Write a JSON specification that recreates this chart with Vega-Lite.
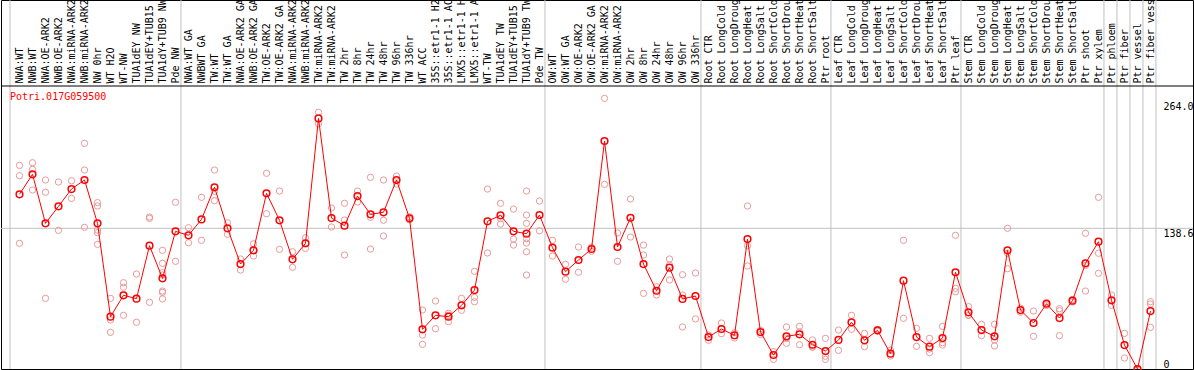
{
  "$schema": "https://vega.github.io/schema/vega-lite/v6.json",
  "width": 1192,
  "height": 369,
  "autosize": {"type": "none"},
  "padding": {"left": 1, "top": 0, "right": 1, "bottom": 1},
  "background": "white",
  "config": {"view": {"stroke": "black", "strokeWidth": 1}, "font": "DejaVu Sans Mono"},
  "datasets": {
    "means": [
      {"s": "NWA:WT", "v": 172.1}, {"s": "NWB:WT", "v": 191.8}, {"s": "NWA:OE-ARK2", "v": 143.5}, {"s": "NWB:OE-ARK2", "v": 160.3},
      {"s": "NWA:miRNA-ARK2", "v": 177.3}, {"s": "NWB:miRNA-ARK2", "v": 186.2}, {"s": "NW 0hr", "v": 143.5}, {"s": "WT H2O", "v": 51.5},
      {"s": "WT-NW", "v": 72.6}, {"s": "TUA1dEY NW", "v": 69.3}, {"s": "TUA1dEY+TUB15", "v": 121.5}, {"s": "TUA1dY+TUB9 NW", "v": 89.3},
      {"s": "Pde NW", "v": 135.6}, {"s": "NWA:WT GA", "v": 131.7}, {"s": "NWBWT GA", "v": 147.4}, {"s": "TW:WT", "v": 179},
      {"s": "TW:WT GA", "v": 138.6}, {"s": "NWA:OE-ARK2 GA", "v": 103.4}, {"s": "NWB:OE-ARK2 GA", "v": 116.9}, {"s": "TW:OE-ARK2", "v": 173.1},
      {"s": "TW:OE-ARK2 GA", "v": 146.5}, {"s": "NWA:miRNA-ARK2 ", "v": 108.1}, {"s": "NWB:miRNA-ARK2 ", "v": 123.8}, {"s": "TW:miRNA-ARK2", "v": 246.9},
      {"s": "TW:miRNA-ARK2 ", "v": 148.7}, {"s": "TW 2hr", "v": 141.2}, {"s": "TW 8hr", "v": 170.4}, {"s": "TW 24hr", "v": 152.4},
      {"s": "TW 48hr", "v": 154.4}, {"s": "TW 96hr", "v": 186.2}, {"s": "TW 336hr", "v": 148.4}, {"s": "WT ACC", "v": 39.1},
      {"s": "35S::etr1-1 H2", "v": 52.9}, {"s": "35S::etr1-1 AC", "v": 51.5}, {"s": "LMX5::etr1-1 H", "v": 62.7}, {"s": "LMX5::etr1-1 A", "v": 77.8},
      {"s": "WT-TW", "v": 145.5}, {"s": "TUA1dEY TW", "v": 151.4}, {"s": "TUA1dEY+TUB15 ", "v": 135.6}, {"s": "TUA1dY+TUB9 TW", "v": 133.3},
      {"s": "Pde TW", "v": 151.7}, {"s": "OW:WT", "v": 119.5}, {"s": "OW:WT GA", "v": 95.9}, {"s": "OW:OE-ARK2", "v": 107.4},
      {"s": "OW:OE-ARK2 GA", "v": 118.2}, {"s": "OW:miRNA-ARK2", "v": 224.6}, {"s": "OW:miRNA-ARK2 ", "v": 120.2}, {"s": "OW 2hr", "v": 149},
      {"s": "OW 8hr", "v": 103.4}, {"s": "OW 24hr", "v": 77.1}, {"s": "OW 48hr", "v": 99.8}, {"s": "OW 96hr", "v": 69},
      {"s": "OW 336hr", "v": 71.9}, {"s": "Root CTR", "v": 31.5}, {"s": "Root LongCold", "v": 39.4}, {"s": "Root LongDroug", "v": 33.2},
      {"s": "Root LongHeat", "v": 128}, {"s": "Root LongSalt", "v": 36.4}, {"s": "Root ShortCold", "v": 13.8}, {"s": "Root ShortDrou", "v": 32.2},
      {"s": "Root ShortHeat", "v": 34.2}, {"s": "Root ShortSalt", "v": 23.9}, {"s": "Ptr root", "v": 17.7}, {"s": "Leaf CTR", "v": 28.6},
      {"s": "Leaf LongCold", "v": 46}, {"s": "Leaf LongDroug", "v": 28.3}, {"s": "Leaf LongHeat", "v": 38.1}, {"s": "Leaf LongSalt", "v": 15.1},
      {"s": "Leaf ShortCold", "v": 87}, {"s": "Leaf ShortDrou", "v": 31.5}, {"s": "Leaf ShortHeat", "v": 22}, {"s": "Leaf ShortSalt", "v": 30.5},
      {"s": "Ptr leaf", "v": 95.3}, {"s": "Stem CTR", "v": 55.8}, {"s": "Stem LongCold", "v": 38.4}, {"s": "Stem LongDroug", "v": 32.2},
      {"s": "Stem LongHeat", "v": 116.9}, {"s": "Stem LongSalt", "v": 58.1}, {"s": "Stem ShortCold", "v": 45.3}, {"s": "Stem ShortDrou", "v": 64.3},
      {"s": "Stem ShortHeat", "v": 50.2}, {"s": "Stem ShortSalt", "v": 67.3}, {"s": "Ptr shoot", "v": 104.1}, {"s": "Ptr xylem", "v": 125.4},
      {"s": "Ptr phloem", "v": 67.7}, {"s": "Ptr fiber", "v": 23.6}, {"s": "Ptr vessel", "v": 0}, {"s": "Ptr fiber vess", "v": 57.1}
    ],
    "reps": [
      {"s": "NWA:WT", "v": 200.6}, {"s": "NWA:WT", "v": 190.4}, {"s": "NWA:WT", "v": 123.8},
      {"s": "NWB:WT", "v": 203.2}, {"s": "NWB:WT", "v": 196.7}, {"s": "NWB:WT", "v": 176.3},
      {"s": "NWA:OE-ARK2", "v": 186.2}, {"s": "NWA:OE-ARK2", "v": 174.1}, {"s": "NWA:OE-ARK2", "v": 69.6},
      {"s": "NWB:OE-ARK2", "v": 184.2}, {"s": "NWB:OE-ARK2", "v": 136.6},
      {"s": "NWA:miRNA-ARK2", "v": 185.5}, {"s": "NWA:miRNA-ARK2", "v": 168.1},
      {"s": "NWB:miRNA-ARK2", "v": 222.3}, {"s": "NWB:miRNA-ARK2", "v": 196}, {"s": "NWB:miRNA-ARK2", "v": 139.6},
      {"s": "NW 0hr", "v": 163.9}, {"s": "NW 0hr", "v": 160.6}, {"s": "NW 0hr", "v": 136.9}, {"s": "NW 0hr", "v": 134.3}, {"s": "NW 0hr", "v": 122.8},
      {"s": "WT H2O", "v": 69.6}, {"s": "WT H2O", "v": 48.3}, {"s": "WT H2O", "v": 36.1},
      {"s": "WT-NW", "v": 85}, {"s": "WT-NW", "v": 80.5}, {"s": "WT-NW", "v": 52.9},
      {"s": "TUA1dEY NW", "v": 93.6}, {"s": "TUA1dEY NW", "v": 46},
      {"s": "TUA1dEY+TUB15", "v": 149.7}, {"s": "TUA1dEY+TUB15", "v": 148.4}, {"s": "TUA1dEY+TUB15", "v": 65.7},
      {"s": "TUA1dY+TUB9 NW", "v": 116.9}, {"s": "TUA1dY+TUB9 NW", "v": 104.1}, {"s": "TUA1dY+TUB9 NW", "v": 94.9}, {"s": "TUA1dY+TUB9 NW", "v": 92.6}, {"s": "TUA1dY+TUB9 NW", "v": 76.8}, {"s": "TUA1dY+TUB9 NW", "v": 75.5}, {"s": "TUA1dY+TUB9 NW", "v": 69},
      {"s": "Pde NW", "v": 164.2}, {"s": "Pde NW", "v": 106.1},
      {"s": "NWA:WT GA", "v": 139.2}, {"s": "NWA:WT GA", "v": 124.4},
      {"s": "NWBWT GA", "v": 169.1}, {"s": "NWBWT GA", "v": 126.8},
      {"s": "TW:WT", "v": 196}, {"s": "TW:WT", "v": 165.8}, {"s": "TW:WT", "v": 175},
      {"s": "TW:WT GA", "v": 144.1}, {"s": "TW:WT GA", "v": 132.7},
      {"s": "NWA:OE-ARK2 GA", "v": 108.4}, {"s": "NWA:OE-ARK2 GA", "v": 97.5},
      {"s": "NWB:OE-ARK2 GA", "v": 123.4}, {"s": "NWB:OE-ARK2 GA", "v": 111.3},
      {"s": "TW:OE-ARK2", "v": 192.8}, {"s": "TW:OE-ARK2", "v": 153},
      {"s": "TW:OE-ARK2 GA", "v": 175.3}, {"s": "TW:OE-ARK2 GA", "v": 117.9},
      {"s": "NWA:miRNA-ARK2 ", "v": 115.5}, {"s": "NWA:miRNA-ARK2 ", "v": 100.2},
      {"s": "NWB:miRNA-ARK2 ", "v": 129.3}, {"s": "NWB:miRNA-ARK2 ", "v": 118.9},
      {"s": "TW:miRNA-ARK2", "v": 252.9}, {"s": "TW:miRNA-ARK2", "v": 241.6},
      {"s": "TW:miRNA-ARK2 ", "v": 158.6}, {"s": "TW:miRNA-ARK2 ", "v": 139.9},
      {"s": "TW 2hr", "v": 163.2}, {"s": "TW 2hr", "v": 146.8}, {"s": "TW 2hr", "v": 112.3},
      {"s": "TW 8hr", "v": 175.3}, {"s": "TW 8hr", "v": 164.5},
      {"s": "TW 24hr", "v": 188.8}, {"s": "TW 24hr", "v": 149.4}, {"s": "TW 24hr", "v": 118.2},
      {"s": "TW 48hr", "v": 186.2}, {"s": "TW 48hr", "v": 146.5}, {"s": "TW 48hr", "v": 131},
      {"s": "TW 96hr", "v": 190.1}, {"s": "TW 96hr", "v": 182.2},
      {"s": "TW 336hr", "v": 150}, {"s": "TW 336hr", "v": 147},
      {"s": "WT ACC", "v": 58.1}, {"s": "WT ACC", "v": 33.5}, {"s": "WT ACC", "v": 24.3},
      {"s": "35S::etr1-1 H2", "v": 67}, {"s": "35S::etr1-1 H2", "v": 39.7},
      {"s": "35S::etr1-1 AC", "v": 54.9}, {"s": "35S::etr1-1 AC", "v": 46.6}, {"s": "35S::etr1-1 AC", "v": 53},
      {"s": "LMX5::etr1-1 H", "v": 69.6}, {"s": "LMX5::etr1-1 H", "v": 57.8},
      {"s": "LMX5::etr1-1 A", "v": 96.2}, {"s": "LMX5::etr1-1 A", "v": 70.6}, {"s": "LMX5::etr1-1 A", "v": 66.3},
      {"s": "WT-TW", "v": 177.3}, {"s": "WT-TW", "v": 114.3},
      {"s": "TUA1dEY TW", "v": 163.2}, {"s": "TUA1dEY TW", "v": 142.8}, {"s": "TUA1dEY TW", "v": 148.2},
      {"s": "TUA1dEY+TUB15 ", "v": 157.6}, {"s": "TUA1dEY+TUB15 ", "v": 128}, {"s": "TUA1dEY+TUB15 ", "v": 122.1},
      {"s": "TUA1dY+TUB9 TW", "v": 175.3}, {"s": "TUA1dY+TUB9 TW", "v": 151.7}, {"s": "TUA1dY+TUB9 TW", "v": 143.5}, {"s": "TUA1dY+TUB9 TW", "v": 128.4}, {"s": "TUA1dY+TUB9 TW", "v": 124.1}, {"s": "TUA1dY+TUB9 TW", "v": 115.5}, {"s": "TUA1dY+TUB9 TW", "v": 92.6},
      {"s": "Pde TW", "v": 165.5}, {"s": "Pde TW", "v": 136.2},
      {"s": "OW:WT", "v": 126.8}, {"s": "OW:WT", "v": 111.3},
      {"s": "OW:WT GA", "v": 103.1}, {"s": "OW:WT GA", "v": 88.4},
      {"s": "OW:OE-ARK2", "v": 120.2}, {"s": "OW:OE-ARK2", "v": 95.3},
      {"s": "OW:OE-ARK2 GA", "v": 120}, {"s": "OW:OE-ARK2 GA", "v": 116},
      {"s": "OW:miRNA-ARK2", "v": 266.6}, {"s": "OW:miRNA-ARK2", "v": 181.9},
      {"s": "OW:miRNA-ARK2 ", "v": 134}, {"s": "OW:miRNA-ARK2 ", "v": 106.1},
      {"s": "OW 2hr", "v": 167.5}, {"s": "OW 2hr", "v": 130},
      {"s": "OW 8hr", "v": 122.1}, {"s": "OW 8hr", "v": 112.3}, {"s": "OW 8hr", "v": 74.5},
      {"s": "OW 24hr", "v": 81.1}, {"s": "OW 24hr", "v": 72.9},
      {"s": "OW 48hr", "v": 108.4}, {"s": "OW 48hr", "v": 102.4}, {"s": "OW 48hr", "v": 87.7},
      {"s": "OW 96hr", "v": 92.9}, {"s": "OW 96hr", "v": 72.9}, {"s": "OW 96hr", "v": 41.4},
      {"s": "OW 336hr", "v": 94.6}, {"s": "OW 336hr", "v": 49.3},
      {"s": "Root CTR", "v": 33.5}, {"s": "Root CTR", "v": 28.3},
      {"s": "Root LongCold", "v": 45.3}, {"s": "Root LongCold", "v": 34.8},
      {"s": "Root LongDroug", "v": 35.8}, {"s": "Root LongDroug", "v": 30.5},
      {"s": "Root LongHeat", "v": 160.6}, {"s": "Root LongHeat", "v": 121.5}, {"s": "Root LongHeat", "v": 101.5},
      {"s": "Root LongSalt", "v": 38}, {"s": "Root LongSalt", "v": 34},
      {"s": "Root ShortCold", "v": 17.1}, {"s": "Root ShortCold", "v": 9.5},
      {"s": "Root ShortDrou", "v": 41.4}, {"s": "Root ShortDrou", "v": 25.3}, {"s": "Root ShortDrou", "v": 30},
      {"s": "Root ShortHeat", "v": 42}, {"s": "Root ShortHeat", "v": 23.9}, {"s": "Root ShortHeat", "v": 36.7},
      {"s": "Root ShortSalt", "v": 28.6}, {"s": "Root ShortSalt", "v": 21.4}, {"s": "Root ShortSalt", "v": 21.7},
      {"s": "Ptr root", "v": 30.2}, {"s": "Ptr root", "v": 12.5}, {"s": "Ptr root", "v": 9.5},
      {"s": "Leaf CTR", "v": 38.4}, {"s": "Leaf CTR", "v": 18.4},
      {"s": "Leaf LongCold", "v": 52.9}, {"s": "Leaf LongCold", "v": 39.1},
      {"s": "Leaf LongDroug", "v": 35.1}, {"s": "Leaf LongDroug", "v": 22},
      {"s": "Leaf LongHeat", "v": 39}, {"s": "Leaf LongHeat", "v": 37.2},
      {"s": "Leaf LongSalt", "v": 18.7}, {"s": "Leaf LongSalt", "v": 12.8},
      {"s": "Leaf ShortCold", "v": 126.8}, {"s": "Leaf ShortCold", "v": 49.9},
      {"s": "Leaf ShortDrou", "v": 40.1}, {"s": "Leaf ShortDrou", "v": 22.3},
      {"s": "Leaf ShortHeat", "v": 30.2}, {"s": "Leaf ShortHeat", "v": 16.1}, {"s": "Leaf ShortHeat", "v": 19.7},
      {"s": "Leaf ShortSalt", "v": 42}, {"s": "Leaf ShortSalt", "v": 23.6}, {"s": "Leaf ShortSalt", "v": 25.9},
      {"s": "Ptr leaf", "v": 131.7}, {"s": "Ptr leaf", "v": 79.5}, {"s": "Ptr leaf", "v": 76.1},
      {"s": "Stem CTR", "v": 61.4}, {"s": "Stem CTR", "v": 52.9}, {"s": "Stem CTR", "v": 53},
      {"s": "Stem LongCold", "v": 44}, {"s": "Stem LongCold", "v": 32.8},
      {"s": "Stem LongDroug", "v": 44}, {"s": "Stem LongDroug", "v": 28.6}, {"s": "Stem LongDroug", "v": 22.7},
      {"s": "Stem LongHeat", "v": 138.6}, {"s": "Stem LongHeat", "v": 114}, {"s": "Stem LongHeat", "v": 98.8},
      {"s": "Stem LongSalt", "v": 60}, {"s": "Stem LongSalt", "v": 56},
      {"s": "Stem ShortCold", "v": 57.1}, {"s": "Stem ShortCold", "v": 32.2},
      {"s": "Stem ShortDrou", "v": 65.5}, {"s": "Stem ShortDrou", "v": 62.5},
      {"s": "Stem ShortHeat", "v": 59.4}, {"s": "Stem ShortHeat", "v": 57.4}, {"s": "Stem ShortHeat", "v": 32.8},
      {"s": "Stem ShortSalt", "v": 68.5}, {"s": "Stem ShortSalt", "v": 66},
      {"s": "Ptr shoot", "v": 133.7}, {"s": "Ptr shoot", "v": 76.8}, {"s": "Ptr shoot", "v": 102},
      {"s": "Ptr xylem", "v": 169.1}, {"s": "Ptr xylem", "v": 114}, {"s": "Ptr xylem", "v": 94.3},
      {"s": "Ptr phloem", "v": 72.9}, {"s": "Ptr phloem", "v": 62.7},
      {"s": "Ptr fiber", "v": 35.1}, {"s": "Ptr fiber", "v": 10.8},
      {"s": "Ptr vessel", "v": 0}, {"s": "Ptr vessel", "v": 0},
      {"s": "Ptr fiber vess", "v": 66.3}, {"s": "Ptr fiber vess", "v": 64}, {"s": "Ptr fiber vess", "v": 41.1}
    ],
    "separators": [
      {"s": "Pde NW"}, {"s": "Pde TW"}, {"s": "OW 336hr"}, {"s": "Ptr root"}, {"s": "Ptr leaf"},
      {"s": "Ptr xylem"}, {"s": "Ptr phloem"}, {"s": "Ptr fiber"}, {"s": "Ptr vessel"}, {"s": "Ptr fiber vess"}
    ]
  },
  "layer": [
    {
      "data": {"name": "separators"},
      "mark": {"type": "rule", "color": "#c0c0c0", "strokeWidth": 1},
      "encoding": {"x": {"field": "s", "type": "nominal", "bandPosition": 0.92}}
    },
    {
      "data": {"values": [{"s": "NWA:WT"}]},
      "mark": {"type": "rule", "color": "#c0c0c0", "strokeWidth": 1},
      "encoding": {"x": {"field": "s", "type": "nominal", "bandPosition": -0.23}}
    },
    {
      "data": {"values": [{"v": 138.6}]},
      "mark": {"type": "rule", "color": "#c0c0c0", "strokeWidth": 1},
      "encoding": {"y": {"field": "v", "type": "quantitative"}}
    },
    {
      "data": {"values": [{"v": 278.8}]},
      "mark": {"type": "rule", "color": "black", "strokeWidth": 1},
      "encoding": {"y": {"field": "v", "type": "quantitative"}}
    },
    {
      "data": {"name": "reps"},
      "mark": {"type": "point", "shape": "circle", "filled": false, "color": "#e99a9a", "opacity": 1, "strokeWidth": 1, "size": 40},
      "encoding": {
        "x": {
          "field": "s", "type": "nominal",
          "scale": {
            "type": "band", "range": [12, 1156], "paddingInner": 0, "paddingOuter": 0,
            "domain": ["NWA:WT", "NWB:WT", "NWA:OE-ARK2", "NWB:OE-ARK2", "NWA:miRNA-ARK2", "NWB:miRNA-ARK2", "NW 0hr", "WT H2O", "WT-NW", "TUA1dEY NW", "TUA1dEY+TUB15", "TUA1dY+TUB9 NW", "Pde NW",
                       "NWA:WT GA", "NWBWT GA", "TW:WT", "TW:WT GA", "NWA:OE-ARK2 GA", "NWB:OE-ARK2 GA", "TW:OE-ARK2", "TW:OE-ARK2 GA", "NWA:miRNA-ARK2 ", "NWB:miRNA-ARK2 ", "TW:miRNA-ARK2", "TW:miRNA-ARK2 ",
                       "TW 2hr", "TW 8hr", "TW 24hr", "TW 48hr", "TW 96hr", "TW 336hr", "WT ACC", "35S::etr1-1 H2", "35S::etr1-1 AC", "LMX5::etr1-1 H", "LMX5::etr1-1 A", "WT-TW", "TUA1dEY TW", "TUA1dEY+TUB15 ", "TUA1dY+TUB9 TW", "Pde TW",
                       "OW:WT", "OW:WT GA", "OW:OE-ARK2", "OW:OE-ARK2 GA", "OW:miRNA-ARK2", "OW:miRNA-ARK2 ", "OW 2hr", "OW 8hr", "OW 24hr", "OW 48hr", "OW 96hr", "OW 336hr",
                       "Root CTR", "Root LongCold", "Root LongDroug", "Root LongHeat", "Root LongSalt", "Root ShortCold", "Root ShortDrou", "Root ShortHeat", "Root ShortSalt", "Ptr root",
                       "Leaf CTR", "Leaf LongCold", "Leaf LongDroug", "Leaf LongHeat", "Leaf LongSalt", "Leaf ShortCold", "Leaf ShortDrou", "Leaf ShortHeat", "Leaf ShortSalt", "Ptr leaf",
                       "Stem CTR", "Stem LongCold", "Stem LongDroug", "Stem LongHeat", "Stem LongSalt", "Stem ShortCold", "Stem ShortDrou", "Stem ShortHeat", "Stem ShortSalt", "Ptr shoot",
                       "Ptr xylem", "Ptr phloem", "Ptr fiber", "Ptr vessel", "Ptr fiber vess"]
          },
          "axis": {
            "orient": "top", "offset": -86, "title": null, "ticks": false, "domain": false, "grid": false,
            "labelAngle": 270, "labelAlign": "left", "labelBaseline": "middle", "labelPadding": 3,
            "labelFont": "DejaVu Sans Mono", "labelFontSize": 10,
            "labelColor": "black", "labelOverlap": false, "labelBound": false, "labelLimit": 0
          }
        },
        "y": {
          "field": "v", "type": "quantitative",
          "scale": {"domain": [0, 278.8], "range": [369, 86], "zero": false, "nice": false},
          "axis": {
            "orient": "right", "offset": -36, "title": null, "ticks": false, "domain": false, "grid": false,
            "values": [0, 138.6, 264],
            "labelExpr": "datum.value == 0 ? '0' : format(datum.value, '.1f')",
            "labelAngle": 0, "labelAlign": "left",
            "labelPadding": 6, "labelFont": "DejaVu Sans Mono", "labelFontSize": 10, "labelColor": "black",
            "labelOverlap": false, "labelFlush": false,
            "labelBaseline": {"condition": {"test": "datum.value == 0", "value": "bottom"}, "value": "top"}
          }
        }
      }
    },
    {
      "data": {"name": "means"},
      "mark": {"type": "line", "color": "#ff0000", "strokeWidth": 1},
      "encoding": {
        "x": {"field": "s", "type": "nominal"},
        "y": {"field": "v", "type": "quantitative"}
      }
    },
    {
      "data": {"name": "means"},
      "mark": {"type": "point", "shape": "circle", "filled": false, "color": "#ff0000", "opacity": 1, "strokeWidth": 1.5, "size": 45},
      "encoding": {
        "x": {"field": "s", "type": "nominal"},
        "y": {"field": "v", "type": "quantitative"}
      }
    },
    {
      "data": {"values": [{"t": "Potri.017G059500"}]},
      "mark": {"type": "text", "align": "left", "baseline": "middle", "dx": -9.5, "font": "DejaVu Sans Mono", "fontSize": 10, "color": "#ff0000"},
      "encoding": {
        "x": {"datum": "NWA:WT"},
        "y": {"datum": 268},
        "text": {"field": "t"}
      }
    }
  ]
}
